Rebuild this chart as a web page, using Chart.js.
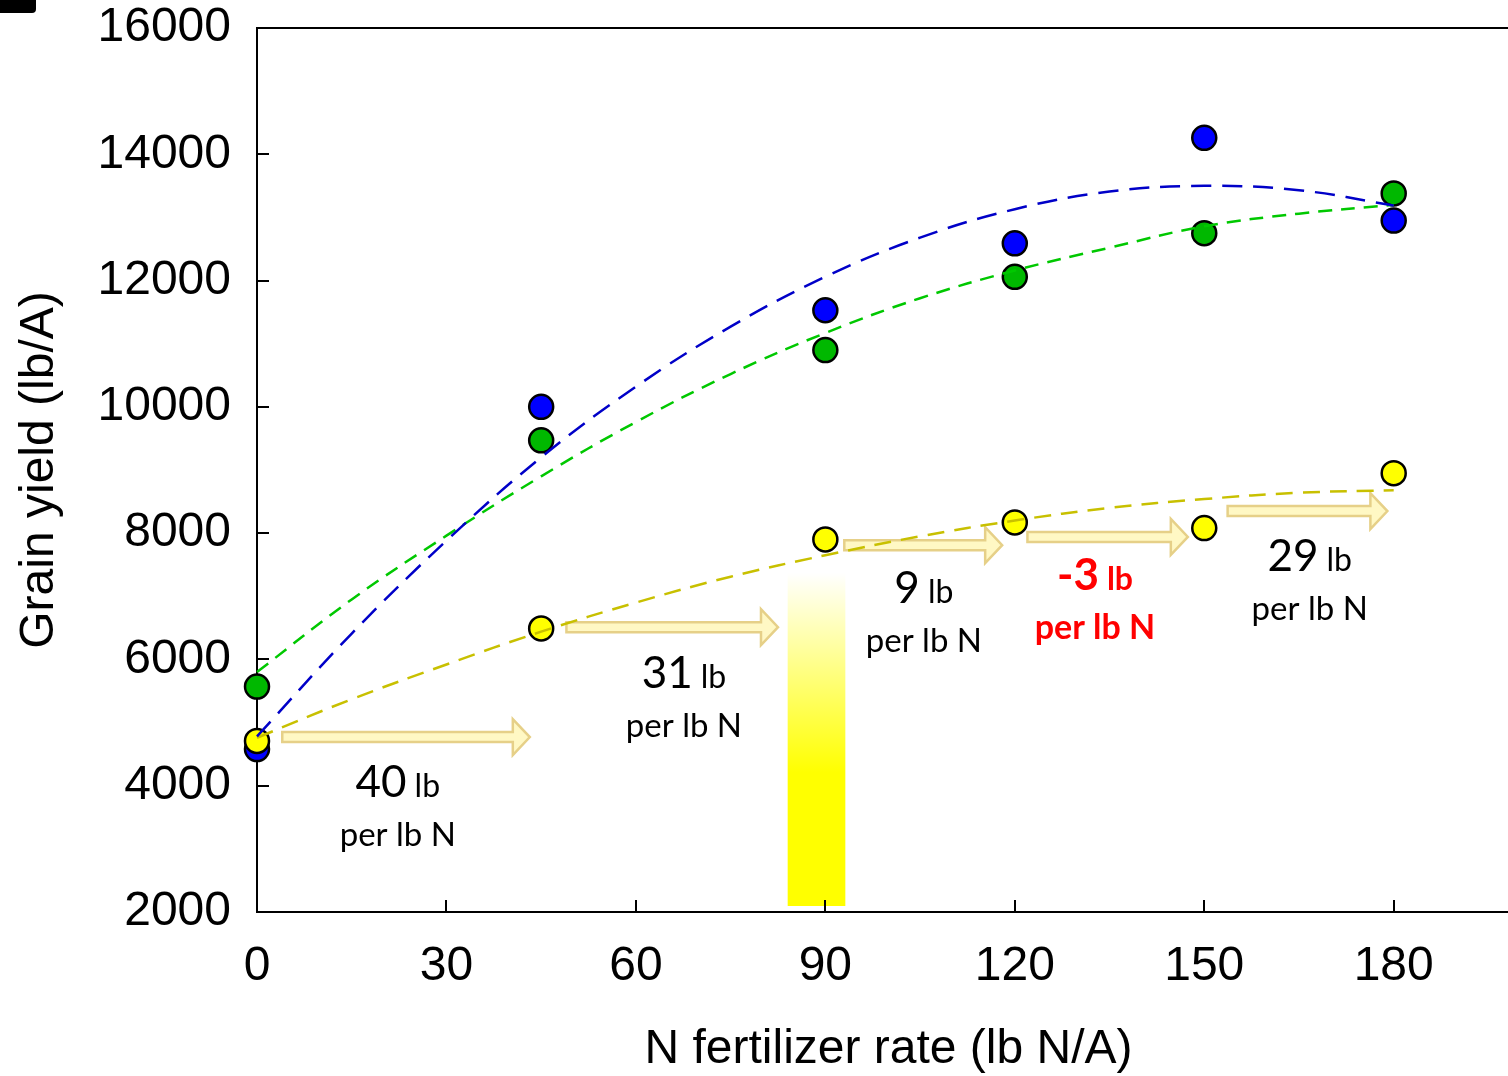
<!DOCTYPE html>
<html>
<head>
<meta charset="utf-8">
<script src="https://cdn.jsdelivr.net/npm/chart.js@4.4.0/dist/chart.umd.min.js"></script>
<style>
  html, body { margin: 0; padding: 0; background: #fff; overflow: hidden; }
  #wrap { position: relative; width: 1522px; height: 1076px; }
  #mark { position: absolute; left: 0; top: 0; width: 36px; height: 13px; background: #000; border-radius: 0 0 4px 0; }
</style>
</head>
<body>
<div id="wrap">
  <canvas id="yieldChart"></canvas>
  <div id="mark"></div>
</div>
<script>
// N rates and measured yields
const rates = [0, 45, 90, 120, 150, 180];
const blueYield = [4580, 10000, 11530, 12590, 14260, 12950];
const greenYield = [5570, 9470, 10900, 12060, 12750, 13380];
const yellowYield = [4710, 6490, 7900, 8170, 8080, 8950];

// fitted response curves
const fitRates = [0, 15, 30, 45, 60, 75, 90, 105, 120, 135, 150, 165, 180];
const blueFit = [4780, 6410, 7880, 9200, 10320, 11270, 12060, 12680, 13130, 13410, 13500, 13430, 13190];
const greenFit = [5800, 6950, 7960, 8900, 9760, 10520, 11170, 11720, 12160, 12520, 12860, 13060, 13200];
const yellowFit = [4760, 5370, 5920, 6440, 6900, 7310, 7650, 7950, 8200, 8400, 8540, 8640, 8680];

// shaded bar near the economic optimum
const barRate = 88.6;
const barRange = [2100, 7370];

// yield gain per lb N between rates
const gainText = ["40", "31", "9", "-3", "29"];
const arrowFrom = [4, 49, 93, 122, 153.7];
const arrowTo = [43.2, 82.5, 118, 147.4, 179];
const arrowAt = [4770, 6510, 7810, 7940, 8350];
const labelX = [22.3, 67.6, 105.6, 132.7, 166.7];
const labelY = [3820, 5550, 6890, 7100, 7400];

const xTicks = [0, 30, 60, 90, 120, 150, 180];

const pts = (xs, ys) => xs.map((x, i) => ({ x: x, y: ys[i] }));

const axisFont = { family: "'Liberation Sans', Arial, sans-serif", size: 48, lineHeight: 1 };
const noteFont = "Lato, 'Open Sans', sans-serif";

function drawArrow(c, x0, x1, y) {
  const shaft = 5, head = 18, headLen = 17;
  c.beginPath();
  c.moveTo(x0, y - shaft);
  c.lineTo(x1 - headLen, y - shaft);
  c.lineTo(x1 - headLen, y - head);
  c.lineTo(x1, y);
  c.lineTo(x1 - headLen, y + head);
  c.lineTo(x1 - headLen, y + shaft);
  c.lineTo(x0, y + shaft);
  c.closePath();
  c.fillStyle = "#FFF8C4";
  c.fill();
  c.lineWidth = 2.5;
  c.strokeStyle = "#E6D088";
  c.lineJoin = "miter";
  c.stroke();
}

const decorations = {
  id: "decorations",
  beforeDatasetsDraw(chart) {
    const c = chart.ctx, x = chart.scales.x, y = chart.scales.y;
    c.save();
    for (let i = 0; i < arrowFrom.length; i++) {
      drawArrow(c, x.getPixelForValue(arrowFrom[i]), x.getPixelForValue(arrowTo[i]), y.getPixelForValue(arrowAt[i]));
    }
    c.restore();
  },
  afterDatasetsDraw(chart) {
    const c = chart.ctx, x = chart.scales.x, y = chart.scales.y;
    const area = chart.chartArea;
    c.save();
    // frame: top line and inward ticks
    c.strokeStyle = "#000";
    c.lineWidth = 2;
    c.beginPath();
    c.moveTo(area.left, area.top);
    c.lineTo(area.right, area.top);
    c.stroke();
    c.beginPath();
    y.ticks.forEach(t => {
      const py = Math.round(y.getPixelForValue(t.value));
      c.moveTo(area.left, py);
      c.lineTo(area.left + 12, py);
    });
    xTicks.forEach(v => {
      const px = Math.round(x.getPixelForValue(v));
      c.moveTo(px, area.bottom);
      c.lineTo(px, area.bottom - 12);
    });
    c.stroke();

    // gain labels
    c.textBaseline = "alphabetic";
    for (let i = 0; i < gainText.length; i++) {
      const neg = gainText[i].startsWith("-");
      const weight = neg ? "bold " : "";
      c.fillStyle = neg ? "#FF0000" : "#000";
      const cx = x.getPixelForValue(labelX[i]);
      const by = y.getPixelForValue(labelY[i]);
      c.font = weight + "44px " + noteFont;
      const wBig = c.measureText(gainText[i]).width;
      c.font = weight + "32px " + noteFont;
      const wLb = c.measureText("lb").width;
      const gap = 8;
      const start = cx - (wBig + gap + wLb) / 2;
      c.textAlign = "left";
      c.font = weight + "44px " + noteFont;
      c.fillText(gainText[i], start, by);
      c.font = weight + "32px " + noteFont;
      c.fillText("lb", start + wBig + gap, by);
      c.textAlign = "center";
      c.font = weight + (neg ? "34px " : "33px ") + noteFont;
      c.fillText("per lb N", cx, by + 49);
    }
    c.restore();
  }
};

const barGradient = (ctx) => {
  const chart = ctx.chart;
  if (!chart.chartArea) return "#FFFF00";
  const top = chart.scales.y.getPixelForValue(barRange[1]);
  const bottom = chart.scales.y.getPixelForValue(barRange[0]);
  const g = chart.ctx.createLinearGradient(0, top, 0, bottom);
  g.addColorStop(0, "#FFFFFF");
  g.addColorStop(0.6, "#FFFF00");
  g.addColorStop(1, "#FFFF00");
  return g;
};

const fitLine = (ys, color, dash, order) => ({
  type: "line",
  data: pts(fitRates, ys),
  borderColor: color,
  borderWidth: 2.5,
  borderDash: dash,
  pointRadius: 0,
  tension: 0.4,
  fill: false,
  clip: false,
  order: order
});

const dots = (ys, color, order) => ({
  type: "scatter",
  data: pts(rates, ys),
  backgroundColor: color,
  borderColor: "#000",
  borderWidth: 2.5,
  pointRadius: 12,
  pointHoverRadius: 12,
  clip: false,
  order: order
});

const noPad = (s) => {
  s.paddingTop = 0;
  s.paddingBottom = 0;
  s.paddingLeft = 0;
  s.paddingRight = 0;
};

const ctx = document.getElementById("yieldChart").getContext("2d");

new Chart(ctx, {
  type: "scatter",
  data: {
    datasets: [
      {
        type: "bar",
        data: [{ x: barRate, y: barRange }],
        backgroundColor: barGradient,
        borderWidth: 0,
        barThickness: 57,
        grouped: false,
        order: 10
      },
      dots(greenYield, "#00B800", 6),
      dots(blueYield, "#0000FF", 5),
      dots(yellowYield, "#FFFF00", 4),
      fitLine(greenFit, "#00C800", [14, 9], 2),
      fitLine(blueFit, "#0000C8", [20, 11], 1),
      fitLine(yellowFit, "#C8C000", [17, 10], 3)
    ]
  },
  options: {
    responsive: true,
    maintainAspectRatio: false,
    animation: false,
    layout: { autoPadding: false, padding: { top: 28, right: 2, left: 0, bottom: 0 } },
    plugins: { legend: { display: false }, tooltip: { enabled: false } },
    scales: {
      x: {
        type: "linear",
        position: "bottom",
        min: 0,
        max: 200,
        offset: false,
        afterBuildTicks: (s) => { s.ticks = xTicks.map(v => ({ value: v })); },
        afterFit: (s) => { s.height = 164; noPad(s); },
        grid: { display: false, drawTicks: false },
        border: { display: true, color: "#000", width: 2 },
        ticks: { color: "#000", font: axisFont, padding: 31, maxRotation: 0, callback: (v) => String(v) },
        title: {
          display: true,
          text: "N fertilizer rate (lb N/A)",
          color: "#000",
          font: { family: axisFont.family, size: 48, lineHeight: 1.08 },
          padding: { top: 0, bottom: 0 }
        }
      },
      y: {
        min: 2000,
        max: 16000,
        afterFit: (s) => { s.width = 257; noPad(s); },
        grid: { display: false, drawTicks: false },
        border: { display: true, color: "#000", width: 2 },
        ticks: { stepSize: 2000, color: "#000", font: axisFont, padding: 26, callback: (v) => String(v) },
        title: {
          display: true,
          text: "Grain yield (lb/A)",
          color: "#000",
          font: { family: axisFont.family, size: 48, lineHeight: 1.2 },
          padding: { top: 11, bottom: 0 }
        }
      }
    }
  },
  plugins: [decorations]
});
</script>
</body>
</html>
